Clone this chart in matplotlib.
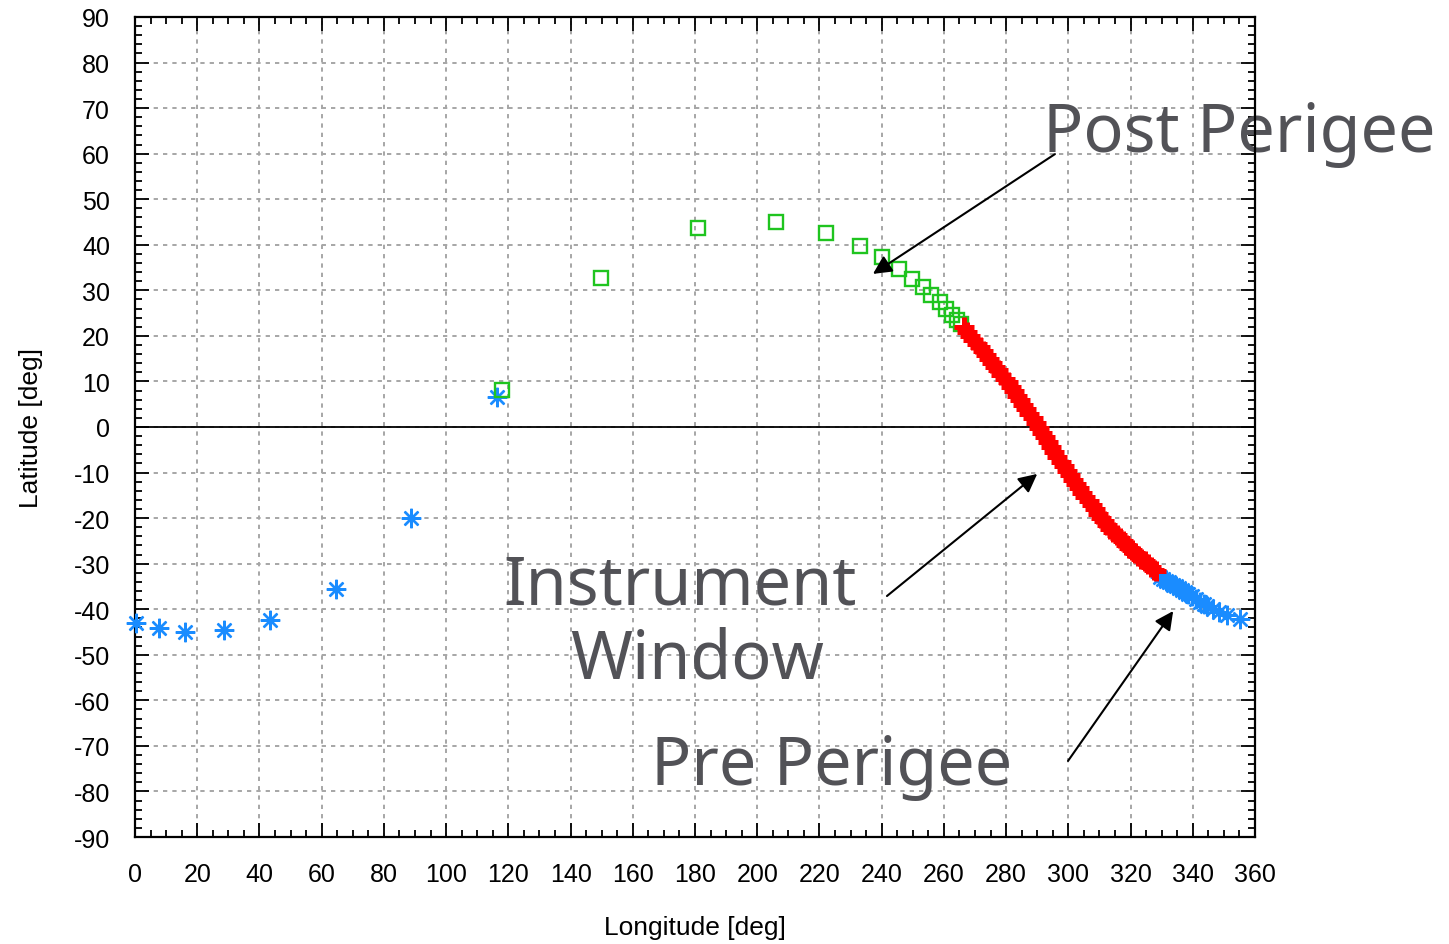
import matplotlib
matplotlib.use("Agg")
import matplotlib.pyplot as plt
from matplotlib.ticker import MultipleLocator

# ---- data ----
pre_lon = [0.3, 7.7, 16.0, 28.6, 43.4, 64.6, 88.7, 116.4,
           329.5, 330.5, 331.5, 332.5, 333.5, 334.5, 335.5, 336.5, 337.5,
           338.5, 339.8, 341.0, 342.3, 343.5, 344.6, 346.5, 348.5, 351.0, 355.2]
pre_lat = [-43.0, -44.1, -45.0, -44.5, -42.4, -35.5, -20.0, 6.6,
           -33.0, -33.3, -33.7, -34.1, -34.6, -35.0, -35.4, -35.8, -36.2,
           -36.7, -37.2, -37.8, -38.4, -38.8, -39.3, -39.9, -40.6, -41.3, -42.1]

post_lon = [118.0, 149.8, 181.0, 206.0, 222.0, 233.0, 240.0, 245.6, 249.7,
            253.3, 256.0, 258.8, 260.7, 262.6, 264.2, 265.5]
post_lat = [8.1, 32.7, 43.7, 45.0, 42.6, 39.7, 37.3, 34.7, 32.5,
            30.7, 29.0, 27.4, 25.9, 24.6, 23.5, 22.6]

win_lon = [266.5, 267.5, 268.5, 269.5, 270.5, 271.5, 272.5, 273.5, 274.5, 275.5,
           276.5, 277.5, 278.5, 279.5, 280.5, 281.5, 282.5, 283.5, 284.5, 285.5,
           286.5, 287.5, 288.5, 289.5, 290.5, 291.5, 292.5, 293.5, 294.5, 295.5,
           296.5, 297.5, 298.5, 299.5, 300.5, 301.5, 302.5, 303.5, 304.5, 305.5,
           306.5, 307.5, 308.5, 309.5, 310.5, 311.5, 312.5, 313.5, 314.5, 315.5,
           316.5, 317.5, 318.5, 319.5, 320.5, 321.5, 322.5, 323.5, 324.5, 325.5,
           326.5, 327.5, 328.2]
win_lat = [22.0, 20.9, 20.0, 19.1, 18.3, 17.5, 16.6, 15.8, 15.0, 14.1,
           13.2, 12.4, 11.5, 10.6, 9.8, 8.8, 7.8, 6.9, 5.9, 4.9,
           3.9, 2.9, 1.9, 0.8, -0.2, -1.3, -2.3, -3.4, -4.4, -5.5,
           -6.5, -7.6, -8.6, -9.6, -10.6, -11.6, -12.5, -13.5, -14.4, -15.4,
           -16.3, -17.2, -18.1, -19.0, -19.9, -20.7, -21.5, -22.3, -23.0, -23.7,
           -24.4, -25.1, -25.8, -26.5, -27.1, -27.7, -28.3, -28.9, -29.5, -30.1,
           -30.7, -31.3, -31.7]

x_ticks = list(range(0, 361, 20))
y_ticks = list(range(-90, 91, 10))

plt.rcParams['font.family'] = ['Liberation Sans', 'DejaVu Sans']
plt.rcParams['axes.unicode_minus'] = False

fig = plt.figure(figsize=(14.49, 9.45), dpi=100)
ax = fig.add_axes([0.0932, 0.1132, 0.7729, 0.8678])

ax.set_xlim(0, 360)
ax.set_ylim(-90, 90)
ax.set_xticks(x_ticks)
ax.set_yticks(y_ticks)
ax.xaxis.set_minor_locator(MultipleLocator(5))
ax.yaxis.set_minor_locator(MultipleLocator(2))
ax.tick_params(which='both', direction='in', top=True, right=True, width=1.3)
ax.tick_params(which='major', length=10, labelsize=18, pad=18)
ax.tick_params(which='minor', length=5)
for s in ax.spines.values():
    s.set_linewidth(1.6)

ax.grid(True, which='major', color='#a6a6a6', lw=1.4, linestyle=(0, (2.2, 2.6)))
ax.set_axisbelow(True)
ax.axhline(0, color='black', lw=1.3, zorder=1.5)

# ---- ground track ----
ax.plot(pre_lon, pre_lat, linestyle='none', marker=(8, 2, 0), ms=14, mew=1.7,
        color='#1a8cff', clip_on=False, zorder=3)
ax.plot(post_lon, post_lat, linestyle='none', marker='s', ms=9.5, mew=1.7,
        mfc='none', mec='#1fc41f', zorder=3)
ax.plot(win_lon, win_lat, linestyle='none', marker='+', ms=14, mew=3.6,
        color='#ff0000', zorder=3)

ax.set_xlabel('Longitude [deg]', fontsize=19, labelpad=21)
ax.set_ylabel('Latitude [deg]', fontsize=19, labelpad=22)

# ---- annotations ----
txt = dict(fontsize=48, color='#525257', family=['Noto Sans', 'DejaVu Sans'],
           zorder=1, clip_on=False)
arr = dict(arrowstyle='-|>', lw=1.5, color='black', mutation_scale=28,
           shrinkA=0, shrinkB=0)

ax.text(291.9, 60.6, 'Post Perigee', ha='left', va='baseline', **txt)
ax.annotate('', xy=(237.2, 33.6), xytext=(295.7, 59.9), arrowprops=arr)

ax.text(118.3, -38.8, 'Instrument', ha='left', va='baseline', **txt)
ax.text(180.6, -54.9, 'Window', ha='center', va='baseline', **txt)
ax.annotate('', xy=(290.0, -10.3), xytext=(241.7, -37.1), arrowprops=arr)

ax.text(165.9, -78.4, 'Pre Perigee', ha='left', va='baseline', **txt)
ax.annotate('', xy=(333.7, -40.4), xytext=(299.9, -73.3), arrowprops=arr)

fig.savefig('out.png', dpi=100)
